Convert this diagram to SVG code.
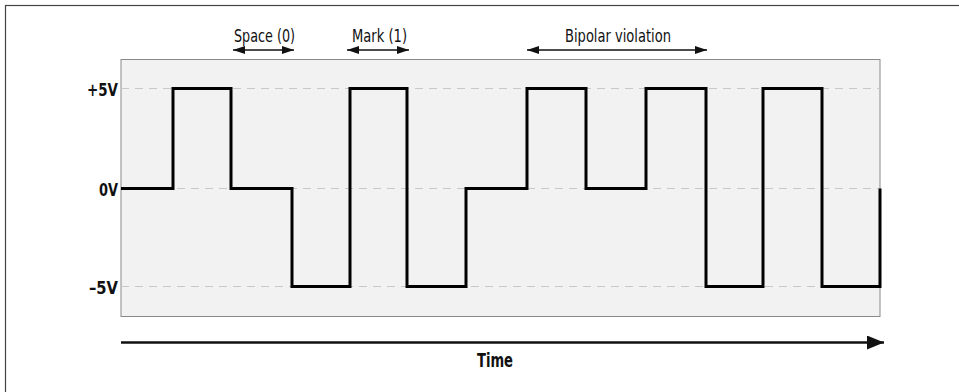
<svg xmlns="http://www.w3.org/2000/svg" width="959" height="392" viewBox="0 0 959 392">
<style>
.lbl{font-family:"Liberation Sans Narrow","DejaVu Sans Condensed","Liberation Sans",sans-serif;fill:#111}
.v{font-weight:bold;font-size:18px}
.ann{font-size:17.5px}
.grid{stroke:#c8c8c8;stroke-width:1;stroke-dasharray:8 6;fill:none}
.ar{stroke:#111;stroke-width:1.3;fill:none}
</style>
<defs>
<marker id="ah" viewBox="0 0 12 8" refX="12" refY="4" markerWidth="12" markerHeight="8" markerUnits="userSpaceOnUse" orient="auto-start-reverse">
<path d="M0,0 L12,4 L0,8 Z" fill="#111"/>
</marker>
<marker id="big" viewBox="0 0 17 14" refX="17" refY="7" markerWidth="17" markerHeight="14" markerUnits="userSpaceOnUse" orient="auto">
<path d="M0,0 L17,7 L0,14 Z" fill="#111"/>
</marker>
</defs>
<rect x="0" y="0" width="959" height="392" fill="#fff"/>
<rect x="5.5" y="5.5" width="1000" height="500" fill="none" stroke="#444" stroke-width="1.2"/>
<g id="plot">
<rect x="121" y="59.5" width="759" height="257" fill="#f2f2f2" stroke="#8a8a8a" stroke-width="1"/>
<line class="grid" x1="121" y1="88.5" x2="880" y2="88.5"/>
<line class="grid" x1="121" y1="188.5" x2="880" y2="188.5"/>
<line class="grid" x1="121" y1="286.5" x2="880" y2="286.5"/>
</g>
<g id="axis-labels">
<text class="lbl v" x="118" y="96" text-anchor="end" textLength="31" lengthAdjust="spacingAndGlyphs">+5V</text>
<text class="lbl v" x="118" y="195.5" text-anchor="end" textLength="19" lengthAdjust="spacingAndGlyphs">0V</text>
<text class="lbl v" x="118" y="293.5" text-anchor="end" textLength="29" lengthAdjust="spacingAndGlyphs">–5V</text>
</g>
<g id="waveform">
<polyline fill="none" stroke="#000" stroke-width="3" stroke-linejoin="miter" points="121,188.5 173,188.5 173,88.5 231,88.5 231,188.5 292,188.5 292,286.5 350,286.5 350,88.5 407,88.5 407,286.5 466,286.5 466,188.5 527,188.5 527,88.5 586,88.5 586,188.5 646,188.5 646,88.5 706,88.5 706,286.5 763,286.5 763,88.5 822,88.5 822,286.5 880,286.5 880,188.5"/>
</g>
<g id="annotations">
<text class="lbl ann" x="234" y="42" textLength="61" lengthAdjust="spacingAndGlyphs">Space (0)</text>
<text class="lbl ann" x="352" y="42" textLength="55" lengthAdjust="spacingAndGlyphs">Mark (1)</text>
<text class="lbl ann" x="565" y="42" textLength="106" lengthAdjust="spacingAndGlyphs">Bipolar violation</text>
</g>
<g id="connectors">
<line class="ar" x1="233" y1="50" x2="294" y2="50" marker-start="url(#ah)" marker-end="url(#ah)"/>
<line class="ar" x1="347" y1="50" x2="409" y2="50" marker-start="url(#ah)" marker-end="url(#ah)"/>
<line class="ar" x1="527" y1="50" x2="707" y2="50" marker-start="url(#ah)" marker-end="url(#ah)"/>
<line x1="121" y1="342.5" x2="884" y2="342.5" stroke="#111" stroke-width="2.5" marker-end="url(#big)"/>
</g>
<g id="time-label">
<text class="lbl" x="477" y="367" font-weight="bold" font-size="19.5" textLength="36" lengthAdjust="spacingAndGlyphs">Time</text>
</g>
</svg>
